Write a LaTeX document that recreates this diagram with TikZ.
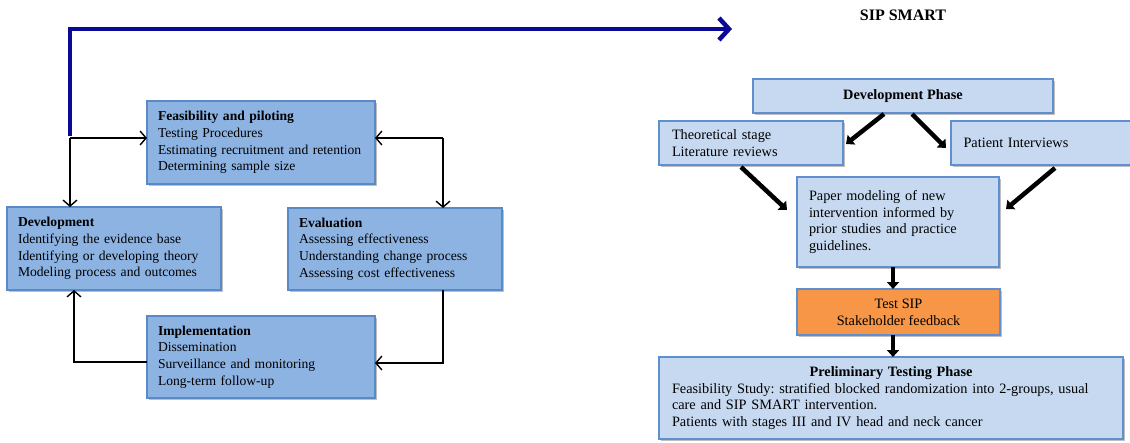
\documentclass[tikz,border=0pt]{standalone}
\usepackage{fontspec}
\setmainfont{Liberation Serif}
\frenchspacing
\usetikzlibrary{arrows.meta,shadows,calc}
\definecolor{leftfill}{HTML}{8DB3E2}
\definecolor{leftdraw}{HTML}{5A8AC6}
\definecolor{rightfill}{HTML}{C6D9F1}
\definecolor{rightdraw}{HTML}{5F8FCF}
\definecolor{orangefill}{HTML}{F79646}
\definecolor{bluearrow}{HTML}{0A0A96}
\tikzset{
  base/.style={line width=1.3pt,
    drop shadow={shadow xshift=1.5pt, shadow yshift=-1.5pt, opacity=0.25, fill=black},
    inner sep=0pt, outer sep=0pt},
  leftbox/.style={base, font=\fontsize{13.6}{16.7}\selectfont, draw=leftdraw, fill=leftfill, align=left, anchor=north west},
  rightbox/.style={base, font=\fontsize{14.3}{16.7}\selectfont, draw=rightdraw, fill=rightfill, anchor=north west},
  orangebox/.style={base, font=\fontsize{14.3}{16.7}\selectfont, draw=rightdraw, fill=orangefill, anchor=north west, align=center},
  thinarrow/.style={draw=black, line width=1.4pt, -{Straight Barb[length=6pt,width=14pt]}},
  thickarrow/.style={draw=black, line width=4.5pt, -{Triangle[length=7pt,width=12pt]}},
  bluearrowstyle/.style={draw=bluearrow, line width=4pt, -{Straight Barb[length=10pt,width=22pt,line width=4.5pt]}},
}
\begin{document}
\begin{tikzpicture}[x=1pt,y=-1pt]
\useasboundingbox (0,0) rectangle (1130,442);
\fill[white] (0,0) rectangle (1130,442);

% left boxes
\node[leftbox, minimum width=228pt, minimum height=83pt, text width=206pt] (feas) at (147,101)
  {\textbf{Feasibility and piloting}\\Testing Procedures\\Estimating recruitment and retention\\Determining sample size};
\node[leftbox, minimum width=214pt, minimum height=83pt, text width=192pt] (dev) at (7,207)
  {\textbf{Development}\\Identifying the evidence base\\Identifying or developing theory\\Modeling process and outcomes};
\node[leftbox, minimum width=214pt, minimum height=82pt, text width=192pt] (eval) at (288,208)
  {\textbf{Evaluation}\\Assessing effectiveness\\Understanding change process\\Assessing cost effectiveness};
\node[leftbox, minimum width=228pt, minimum height=82pt, text width=206pt] (impl) at (147,316)
  {\textbf{Implementation}\\Dissemination\\Surveillance and monitoring\\Long-term follow-up};

% left connectors
\coordinate (j1) at (70,138);
\coordinate (j2) at (443,138);
\coordinate (j3) at (443,363);
\coordinate (j4) at (74,362);
\coordinate (bluestart) at (70,136);
\coordinate (bluetip) at (732,29);
\draw[bluearrowstyle] (bluestart) |- (bluetip);
\draw[thinarrow] (j1) -- (feas.west |- j1);
\draw[thinarrow] (j1) -- (dev.north -| j1);
\draw[thinarrow] (j2) -- (feas.east |- j2);
\draw[thinarrow] (j2) -- (eval.north -| j2);
\draw[thinarrow] (eval.south -| j3) |- (impl.east |- j3);
\draw[thinarrow] (impl.west |- j4) -| (dev.south -| j4);

% right side
\node[font=\fontsize{16}{19}\selectfont\bfseries] (title) at (903,15) {SIP SMART};
\node[rightbox, minimum width=300pt, minimum height=34pt, align=center] (dphase) at (753,79)
  {\textbf{Development Phase}};
\node[rightbox, minimum width=184pt, minimum height=44pt, text width=158pt, align=left] (theo) at (659,121)
  {Theoretical stage\\Literature reviews};
\node[rightbox, minimum width=185pt, minimum height=44pt, text width=160pt, align=left] (pat) at (951,121)
  {Patient Interviews};
\node[rightbox, minimum width=202pt, minimum height=90pt, text width=178pt, align=left] (paper) at (797,177)
  {Paper modeling of new\\intervention informed by\\prior studies and practice\\guidelines.};
\node[orangebox, minimum width=203pt, minimum height=46pt] (test) at (797,289)
  {Test SIP\\Stakeholder feedback};
\node[rightbox, minimum width=464pt, minimum height=82pt, text width=438pt, align=left] (prelim) at (659,357)
  {\makebox[\linewidth]{\textbf{Preliminary Testing Phase}}\\Feasibility Study: stratified blocked randomization into 2-groups, usual\\care and SIP SMART intervention.\\Patients with stages III and IV head and neck cancer};

% right connectors
\coordinate (a1s) at (884,114);
\coordinate (a1e) at (846,144);
\coordinate (a2s) at (912,114);
\coordinate (a2e) at (946,148);
\coordinate (a3s) at (741,167);
\coordinate (a3e) at (787,210);
\coordinate (a4s) at (1055,168);
\coordinate (a4e) at (1006,209);
\draw[thickarrow] (a1s) -- (a1e);
\draw[thickarrow] (a2s) -- (a2e);
\draw[thickarrow] (a3s) -- (a3e);
\draw[thickarrow] (a4s) -- (a4e);
\draw[thickarrow] (paper.south -| 893,0) -- (test.north -| 893,0);
\draw[thickarrow] (test.south -| 893,0) -- (prelim.north -| 893,0);
\end{tikzpicture}
\end{document}
